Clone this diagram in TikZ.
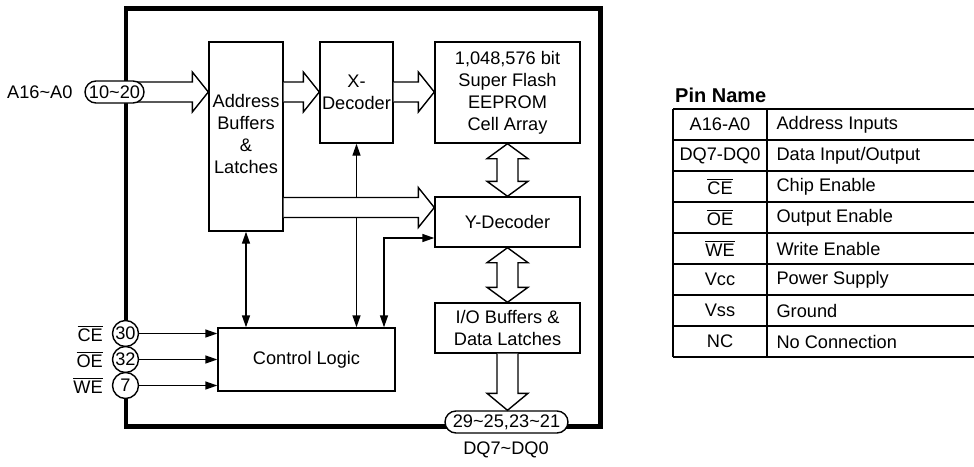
\documentclass[tikz,border=0pt]{standalone}
\usepackage{fontspec}
\setmainfont{Liberation Sans}
\usetikzlibrary{arrows.meta,calc}
\newcommand{\ovl}[1]{\vbox{\hrule height 1.2pt\kern1.6pt\hbox{#1}}}
\newcommand{\tld}{\textasciitilde}
\begin{document}
\begin{tikzpicture}[x=1pt,y=-1pt,
  font=\fontsize{18.2}{22}\selectfont,
  box/.style={draw,line width=1.4pt,inner sep=0pt,align=center},
  conn/.style={line width=1.4pt},
  tipend/.style={-{Triangle[length=12pt,width=8pt]}},
  tipboth/.style={{Triangle[length=12pt,width=8pt]}-{Triangle[length=12pt,width=8pt]}},
  pinc/.style={draw,circle,fill=white,line width=1.4pt,minimum size=26pt,inner sep=0pt},
  pill/.style={draw,rectangle,rounded corners=11pt,fill=white,line width=1.4pt,minimum height=22pt,inner sep=0pt},
  frame/.style={line width=4.5pt},
  hollow/.style={line width=1.4pt,fill=white},
  grid/.style={line width=1.1pt},
  ]
\useasboundingbox (0,0) rectangle (974,466);
\clip (0,0) rectangle (974,466);

% frame
\draw[frame] (126,8.5) rectangle (600.5,426.5);

% boxes
\node[box,minimum width=74pt,minimum height=189pt] (addr) at (246,136.5) {};
\node[align=center] at (246,134) {Address\\Buffers\\\&\\Latches};
\node[box,minimum width=73pt,minimum height=101pt] (xdec) at (356.5,92.5) {X-\\Decoder};
\node[box,minimum width=145pt,minimum height=101pt] (cell) at (507.5,92.5) {1,048,576 bit\\Super Flash\\EEPROM\\Cell Array};
\node[box,minimum width=145pt,minimum height=50pt] (ydec) at (507.5,222) {Y-Decoder};
\node[box,minimum width=145pt,minimum height=50pt] (io) at (507.5,328) {I/O Buffers \&\\Data Latches};
\node[box,minimum width=177pt,minimum height=63pt] (ctrl) at (306.5,359.5) {Control Logic};

% thin connectors
\draw[conn,tipboth] (xdec.south) -- (xdec.south |- ctrl.north);
\draw[conn,tipboth] (addr.south) -- (addr.south |- ctrl.north);
\coordinate (elb) at (384,238);
\draw[conn,tipboth] (elb |- ctrl.north) -- (elb) -- (elb -| ydec.west);

% coordinates for hollow arrows
\coordinate (pa) at (114.5,92);
\coordinate (s1) at (addr.east |- pa);
\coordinate (t1) at (xdec.west |- pa);
\coordinate (s2) at (xdec.east |- pa);
\coordinate (t2) at (cell.west |- pa);
\coordinate (ta) at (addr.west |- pa);
\coordinate (yy) at (0,207.5);
\coordinate (s3) at (addr.east |- yy);
\coordinate (t3) at (ydec.west |- yy);

% hollow horizontal arrows
\foreach \s/\t in {pa/ta,s1/t1,s2/t2,s3/t3}{
  \draw[hollow] ($(\s)+(0,-10)$) -- ($(\t)+(-16,-10)$) -- ($(\t)+(-16,-20)$) -- (\t)
    -- ($(\t)+(-16,20)$) -- ($(\t)+(-16,10)$) -- ($(\s)+(0,10)$);
}

% hollow vertical double arrows
\foreach \a/\b in {cell/ydec,ydec/io}{
  \draw[hollow] (\a.south) -- ($(\a.south)+(20.5,15)$) -- ($(\a.south)+(10.5,15)$)
    -- ($(\b.north)+(10.5,-15)$) -- ($(\b.north)+(20.5,-15)$) -- (\b.north)
    -- ($(\b.north)+(-20.5,-15)$) -- ($(\b.north)+(-10.5,-15)$)
    -- ($(\a.south)+(-10.5,15)$) -- ($(\a.south)+(-20.5,15)$) -- cycle;
}

% address pill
\node[pill,minimum width=59pt] (pinA) at (pa) {10\tld20};
\node[anchor=east] (lblA) at (76,92) {A16\tld A0};

% DQ pill and arrow
\node[pill,minimum width=123pt] (pinD) at (506.5,422) {};
\draw[hollow] ($(io.south)+(-10.5,0)$) -- ($(io.south |- pinD.north)+(-10.5,-17)$) -- ($(io.south |- pinD.north)+(-20.5,-17)$)
  -- (io.south |- pinD.north) -- ($(io.south |- pinD.north)+(20.5,-17)$) -- ($(io.south |- pinD.north)+(10.5,-17)$)
  -- ($(io.south)+(10.5,0)$);
\node at (pinD) {29\tld25,23\tld21};
\node (lblD) at (506,450) {DQ7\tld DQ0};

% control pins
\node[pinc] (ce) at (125.5,333.5) {30};
\node[pinc] (oe) at (125.5,359.5) {32};
\node[pinc] (we) at (125.5,385.5) {7};
\node[anchor=east,inner sep=0pt] (lce) at (103,333.5) {\ovl{CE}};
\node[anchor=east,inner sep=0pt] (loe) at (103,359.5) {\ovl{OE}};
\node[anchor=east,inner sep=0pt] (lwe) at (103,385.5) {\ovl{WE}};
\foreach \p in {ce,oe,we}{
  \draw[conn,tipend] (\p.east) -- (\p.east -| ctrl.west);
}

% pin name table
\node[anchor=west,inner sep=0pt,font=\fontsize{20}{24}\selectfont\bfseries] (title) at (675,95) {Pin Name};
\foreach \k in {0,...,8}{
  \draw[grid] (673,109+31*\k) -- (980,109+31*\k);
}
\draw[grid] (673,109) -- (673,357);
\draw[grid] (767,109) -- (767,357);
\foreach \a/\b [count=\i from 0] in {A16-A0/Address Inputs,DQ7-DQ0/Data Input\slash Output,\ovl{CE}/Chip Enable,\ovl{OE}/Output Enable,\ovl{WE}/Write Enable,Vcc/Power Supply,Vss/Ground,NC/No Connection}{
  \node at (720,124.5+31*\i) {\a};
  \node[anchor=west] at (773,124.5+31*\i) {\b};
}
\end{tikzpicture}
\end{document}
